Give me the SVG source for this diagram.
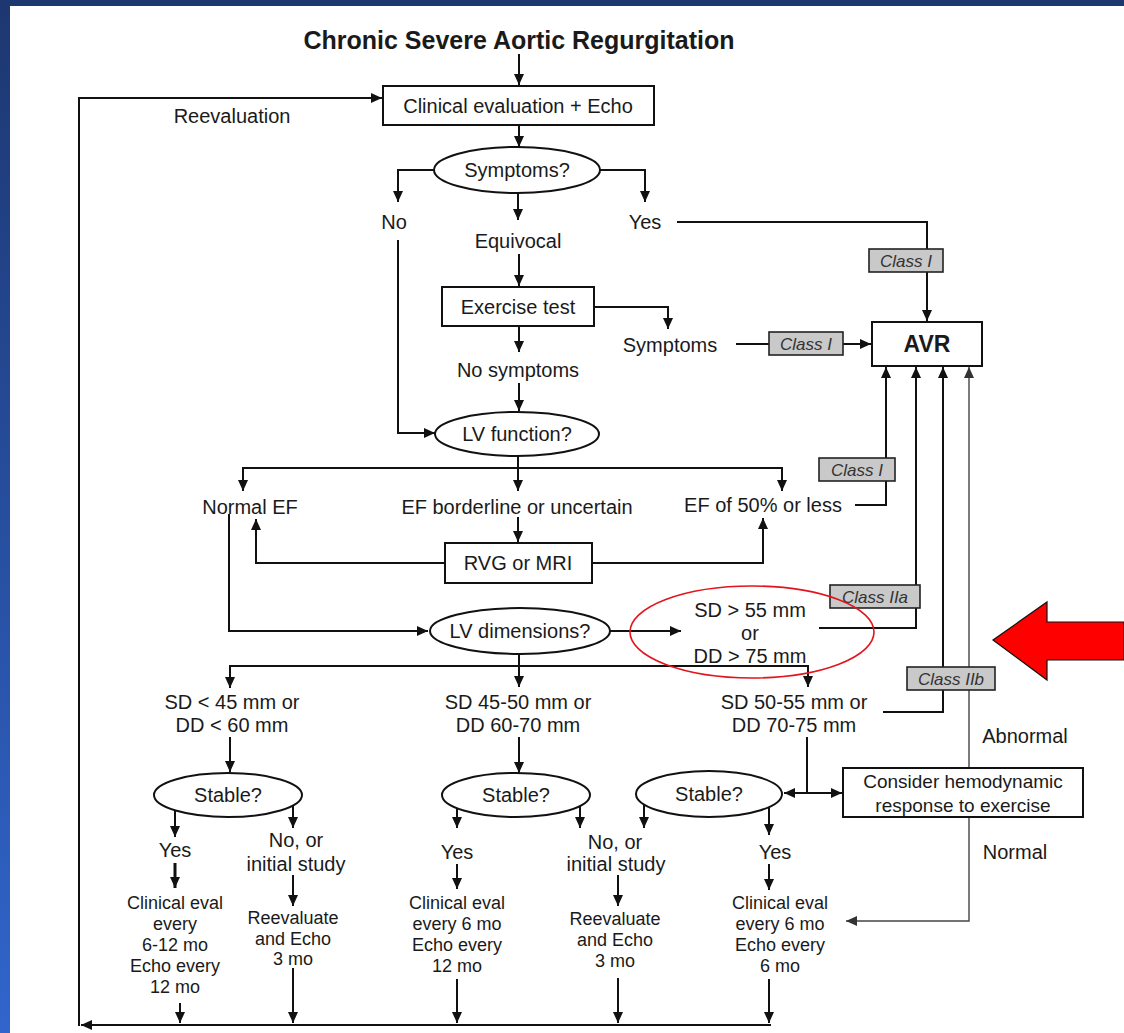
<svg xmlns="http://www.w3.org/2000/svg" width="1124" height="1033" viewBox="0 0 1124 1033">
  <defs>
    <linearGradient id="frame" x1="0" y1="0" x2="0" y2="1">
      <stop offset="0" stop-color="#1d3770"/>
      <stop offset="1" stop-color="#3165cc"/>
    </linearGradient>
    <marker id="ah" markerUnits="userSpaceOnUse" markerWidth="12" markerHeight="10" refX="11" refY="5" orient="auto">
      <path d="M0,0 L11,5 L0,10 z" fill="#111"/>
    </marker>
    <marker id="ahg" markerUnits="userSpaceOnUse" markerWidth="12" markerHeight="10" refX="11" refY="5" orient="auto">
      <path d="M0,0 L11,5 L0,10 z" fill="#333"/>
    </marker>
    <style>
      .ln { fill: none; stroke: #111; stroke-width: 2; marker-end: url(#ah); }
      .pl { fill: none; stroke: #111; stroke-width: 2; }
      .thin { fill: none; stroke: #444; stroke-width: 1.4; marker-end: url(#ahg); }
      .box { fill: #fff; stroke: #111; stroke-width: 2; }
      .cls { fill: #c9c9c9; stroke: #222; stroke-width: 1.6; }
      text { font-family: "Liberation Sans", Arial, sans-serif; fill: #1a1a1a; text-anchor: middle; }
      .t { font-size: 20px; }
      .s { font-size: 18px; }
      .ct { font-size: 17px; font-style: italic; fill: #333; }
    </style>
  </defs>

  <!-- slide background and frame -->
  <rect x="0" y="0" width="1124" height="1033" fill="#fff"/>
  <rect x="0" y="0" width="10" height="1033" fill="url(#frame)"/>
  <rect x="0" y="0" width="1124" height="6" fill="#1d3770"/>

  <!-- connectors -->
  <g id="connectors">
    <path class="ln" d="M519,54 V85"/>
    <path class="ln" d="M771,1025 H81"/>
    <path class="ln" d="M79,1026 V98 H382"/>
    <path class="ln" d="M519,125 V147"/>
    <path class="ln" d="M435,170 H398 V202"/>
    <path class="ln" d="M518,193 V220"/>
    <path class="ln" d="M600,170 H645 V202"/>
    <path class="ln" d="M677,222 H927 V321"/>
    <path class="ln" d="M519,254 V286"/>
    <path class="ln" d="M594,307 H668 V329"/>
    <path class="pl" d="M736,344 H769"/>
    <path class="ln" d="M843,344 H871"/>
    <path class="ln" d="M519,326 V352"/>
    <path class="ln" d="M519,383 V411"/>
    <path class="ln" d="M398,240 V433 H435"/>
    <path class="ln" d="M518,456 V491"/>
    <path class="ln" d="M518,468 H243 V491"/>
    <path class="ln" d="M518,468 H782 V491"/>
    <path class="ln" d="M518,517 V542"/>
    <path class="ln" d="M445,563 H256 V519"/>
    <path class="ln" d="M592,563 H763 V518"/>
    <path class="ln" d="M855,505 H886 V367"/>
    <path class="ln" d="M229,514 V631 H428"/>
    <path class="ln" d="M610,631 H681"/>
    <path class="ln" d="M819,628 H916 V367"/>
    <path class="ln" d="M519,653 V687"/>
    <path class="ln" d="M519,666 H230 V688"/>
    <path class="ln" d="M519,666 H808 V687"/>
    <path class="ln" d="M883,712 H943 V367"/>
    <path class="thin" d="M969,768 V367"/>
    <path class="thin" d="M969,817 V921 H846"/>
    <path class="ln" d="M230,737 V772"/>
    <path class="ln" d="M519,737 V773"/>
    <path class="pl" d="M807,737 V793"/>
    <path class="ln" d="M807,793 H784"/>
    <path class="ln" d="M807,793 H842"/>
    <path class="ln" d="M175,810 V837"/>
    <path class="ln" d="M293,805 V828"/>
    <path class="ln" d="M175,863 V888" style="stroke-width:3"/>
    <path class="ln" d="M293,875 V906"/>
    <path class="ln" d="M180,1003 V1023"/>
    <path class="ln" d="M293,968 V1023"/>
    <path class="ln" d="M457,808 V828"/>
    <path class="ln" d="M580,806 V828"/>
    <path class="ln" d="M644,805 V828"/>
    <path class="ln" d="M769,807 V835"/>
    <path class="ln" d="M457,864 V889"/>
    <path class="ln" d="M618,875 V906"/>
    <path class="ln" d="M769,864 V890"/>
    <path class="ln" d="M457,979 V1023"/>
    <path class="ln" d="M618,978 V1023"/>
    <path class="ln" d="M769,979 V1023"/>
  </g>

  <!-- nodes -->
  <g id="title"><text x="519" y="49" style="font-size:25px;font-weight:bold">Chronic Severe Aortic Regurgitation</text></g>
  <g id="reevaluation"><text class="t" x="232" y="123">Reevaluation</text></g>
  <g id="clinical-evaluation">
    <rect class="box" x="383" y="86" width="271" height="39"/>
    <text class="t" x="518" y="113">Clinical evaluation + Echo</text>
  </g>
  <g id="symptoms-q">
    <ellipse class="box" cx="517" cy="170" rx="83" ry="23"/>
    <text class="t" x="517" y="177">Symptoms?</text>
  </g>
  <g id="no"><text class="t" x="394" y="229">No</text></g>
  <g id="yes"><text class="t" x="645" y="229">Yes</text></g>
  <g id="equivocal"><text class="t" x="518" y="248">Equivocal</text></g>
  <g id="exercise-test">
    <rect class="box" x="442" y="287" width="152" height="39"/>
    <text class="t" x="518" y="314">Exercise test</text>
  </g>
  <g id="symptoms"><text class="t" x="670" y="352">Symptoms</text></g>
  <g id="no-symptoms"><text class="t" x="518" y="377">No symptoms</text></g>
  <g id="avr">
    <rect class="box" x="872" y="322" width="110" height="44"/>
    <text x="927" y="352" style="font-size:23px;font-weight:bold">AVR</text>
  </g>
  <g id="class-i-yes">
    <rect class="cls" x="869" y="249" width="74" height="23"/>
    <text class="ct" x="906" y="267">Class I</text>
  </g>
  <g id="class-i-symptoms">
    <rect class="cls" x="769" y="332" width="74" height="23"/>
    <text class="ct" x="806" y="350">Class I</text>
  </g>
  <g id="lv-function">
    <ellipse class="box" cx="517" cy="434" rx="82" ry="22"/>
    <text class="t" x="517" y="441">LV function?</text>
  </g>
  <g id="normal-ef"><text class="t" x="250" y="514">Normal EF</text></g>
  <g id="ef-borderline"><text class="t" x="517" y="514">EF borderline or uncertain</text></g>
  <g id="ef-50"><text class="t" x="763" y="512">EF of 50% or less</text></g>
  <g id="class-i-ef">
    <rect class="cls" x="819" y="458" width="76" height="23"/>
    <text class="ct" x="857" y="476">Class I</text>
  </g>
  <g id="rvg-mri">
    <rect class="box" x="445" y="543" width="147" height="40"/>
    <text class="t" x="518" y="570">RVG or MRI</text>
  </g>
  <g id="lv-dimensions">
    <ellipse class="box" cx="520" cy="631" rx="90" ry="23"/>
    <text class="t" x="520" y="638">LV dimensions?</text>
  </g>
  <g id="sd-55">
    <text class="t" x="750" y="617">SD &gt; 55 mm</text>
    <text class="t" x="750" y="640">or</text>
    <text class="t" x="750" y="663">DD &gt; 75 mm</text>
  </g>
  <g id="class-iia">
    <rect class="cls" x="830" y="585" width="90" height="23"/>
    <text class="ct" x="875" y="603">Class IIa</text>
  </g>
  <g id="sd-45">
    <text class="t" x="232" y="709">SD &lt; 45 mm or</text>
    <text class="t" x="232" y="732">DD &lt; 60 mm</text>
  </g>
  <g id="sd-45-50">
    <text class="t" x="518" y="709">SD 45-50 mm or</text>
    <text class="t" x="518" y="732">DD 60-70 mm</text>
  </g>
  <g id="sd-50-55">
    <text class="t" x="794" y="709">SD 50-55 mm or</text>
    <text class="t" x="794" y="732">DD 70-75 mm</text>
  </g>
  <g id="class-iib">
    <rect class="cls" x="907" y="667" width="88" height="23"/>
    <text class="ct" x="951" y="685">Class IIb</text>
  </g>
  <g id="abnormal"><text class="t" x="1025" y="743">Abnormal</text></g>
  <g id="normal"><text class="t" x="1015" y="859">Normal</text></g>
  <g id="hemodynamic">
    <rect class="box" x="843" y="768" width="240" height="49"/>
    <text class="t" x="963" y="788" style="font-size:19px">Consider hemodynamic</text>
    <text class="t" x="963" y="812" style="font-size:19px">response to exercise</text>
  </g>

  <g id="stable-1">
    <ellipse class="box" cx="228" cy="795" rx="74" ry="22"/>
    <text class="t" x="228" y="802">Stable?</text>
  </g>
  <g id="yes-1"><text class="t" x="175" y="857">Yes</text></g>
  <g id="no-1">
    <text class="t" x="296" y="847">No, or</text>
    <text class="t" x="296" y="871">initial study</text>
  </g>
  <g id="followup-1">
    <text class="s" x="175" y="909">Clinical eval</text>
    <text class="s" x="175" y="930">every</text>
    <text class="s" x="175" y="951">6-12 mo</text>
    <text class="s" x="175" y="972">Echo every</text>
    <text class="s" x="175" y="993">12 mo</text>
  </g>
  <g id="reevaluate-1">
    <text class="s" x="293" y="924">Reevaluate</text>
    <text class="s" x="293" y="945">and Echo</text>
    <text class="s" x="293" y="965">3 mo</text>
  </g>

  <g id="stable-2">
    <ellipse class="box" cx="516" cy="795" rx="74" ry="22"/>
    <text class="t" x="516" y="802">Stable?</text>
  </g>
  <g id="yes-2"><text class="t" x="457" y="859">Yes</text></g>
  <g id="followup-2">
    <text class="s" x="457" y="909">Clinical eval</text>
    <text class="s" x="457" y="930">every 6 mo</text>
    <text class="s" x="457" y="951">Echo every</text>
    <text class="s" x="457" y="972">12 mo</text>
  </g>
  <g id="no-2">
    <text class="t" x="615" y="849">No, or</text>
    <text class="t" x="616" y="871">initial study</text>
  </g>
  <g id="reevaluate-2">
    <text class="s" x="615" y="925">Reevaluate</text>
    <text class="s" x="615" y="946">and Echo</text>
    <text class="s" x="615" y="967">3 mo</text>
  </g>

  <g id="stable-3">
    <ellipse class="box" cx="709" cy="794" rx="73" ry="23"/>
    <text class="t" x="709" y="801">Stable?</text>
  </g>
  <g id="yes-3"><text class="t" x="775" y="859">Yes</text></g>
  <g id="followup-3">
    <text class="s" x="780" y="909">Clinical eval</text>
    <text class="s" x="780" y="930">every 6 mo</text>
    <text class="s" x="780" y="951">Echo every</text>
    <text class="s" x="780" y="972">6 mo</text>
  </g>

  <!-- red highlight ring and pointer -->
  <g id="highlight">
    <ellipse cx="752" cy="632" rx="122" ry="46" fill="none" stroke="#e3141b" stroke-width="1.6"/>
    <polygon points="993,640 1047,602 1047,622 1124,622 1124,660 1047,660 1047,680" fill="#ff0000" stroke="#111" stroke-width="1.2"/>
  </g>
</svg>
